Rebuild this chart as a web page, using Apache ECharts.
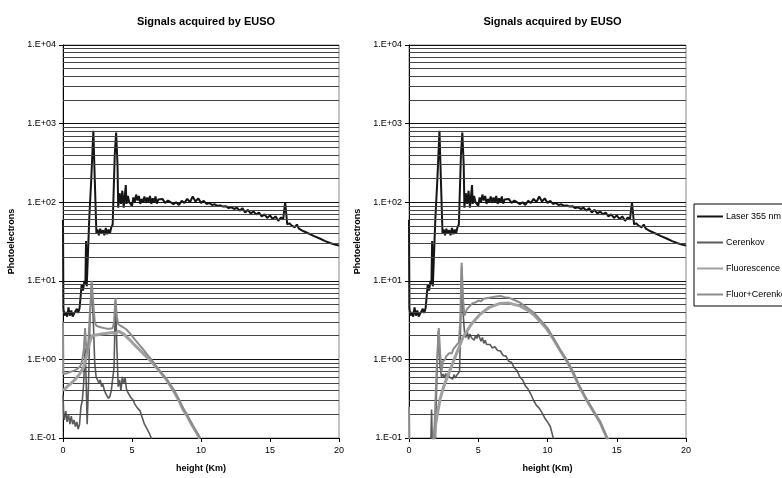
<!DOCTYPE html>
<html>
<head>
<meta charset="utf-8">
<script src="https://cdn.jsdelivr.net/npm/echarts@6/dist/echarts.min.js"></script>
<style>html,body{margin:0;padding:0;background:#fff}#c{width:782px;height:478px}</style>
</head>
<body>
<div id="c"></div>
<script>
const chartTitle = 'Signals acquired by EUSO';
const xName = 'height (Km)';
const yName = 'Photoelectrons';
const seriesNames = ['Laser 355 nm', 'Cerenkov', 'Fluorescence', 'Fluor+Cerenkov'];
const xTicks = [0, 5, 10, 15, 20];
const yDecades = [0.1, 1, 10, 100, 1000, 10000];

// Laser 355 nm (same in both panels)
const laser = [[0,60],[0.03,4.5],[0.1,3.6],[0.2,4.0],[0.3,3.5],[0.4,4.6],[0.5,3.6],[0.6,4.2],[0.7,3.5],[0.8,3.8],[0.9,3.6],[1.0,4.4],[1.1,3.9],[1.2,4.5],[1.3,7],[1.35,9],[1.45,7.5],[1.55,10],[1.62,9],[1.67,32],[1.72,8.5],[1.8,9],[1.9,60],[2.05,200],[2.2,810],[2.3,200],[2.42,40],[2.5,45],[2.6,38],[2.7,46],[2.8,40],[2.9,44],[3.0,38],[3.1,47],[3.2,39],[3.3,45],[3.4,40],[3.5,48],[3.6,52],[3.7,55],[3.75,400],[3.85,770],[3.95,300],[4.0,85],[4.1,130],[4.2,95],[4.3,140],[4.4,85],[4.55,165],[4.6,95],[4.7,120],[4.8,100],[4.9,105],[5.0,90],[5.1,115],[5.2,100],[5.3,125],[5.4,105],[5.5,120],[5.6,95],[5.7,110],[5.8,100],[5.9,118],[6.0,98],[6.1,115],[6.2,100],[6.3,120],[6.4,95],[6.5,112],[6.6,100],[6.7,118],[6.8,96],[6.9,108],[7.0,102],[7.2,110],[7.4,98],[7.6,105],[7.8,100],[8.0,94],[8.2,100],[8.4,92],[8.6,104],[8.8,98],[9.0,110],[9.2,100],[9.4,118],[9.6,102],[9.8,112],[10.0,98],[10.2,104],[10.4,95],[10.6,98],[10.8,92],[11.0,94],[11.2,90],[11.4,91],[11.6,88],[11.8,89],[12.0,84],[12.2,86],[12.4,82],[12.6,85],[12.8,78],[13.0,84],[13.2,74],[13.4,80],[13.6,72],[13.8,76],[14.0,70],[14.2,74],[14.4,66],[14.6,70],[14.8,63],[15.0,68],[15.2,61],[15.4,66],[15.6,58],[15.8,64],[15.95,60],[16.1,100],[16.25,52],[16.4,54],[16.6,50],[16.8,48],[16.95,52],[17.1,46],[17.4,43],[17.8,40],[18.2,37],[18.6,34.5],[19.0,32],[19.4,30],[19.7,29],[20,28]];

// Left panel
const cerenkovL = [[0,0.35],[0.05,0.2],[0.1,0.17],[0.2,0.22],[0.3,0.16],[0.4,0.2],[0.5,0.15],[0.6,0.19],[0.7,0.15],[0.8,0.17],[0.9,0.14],[1.0,0.16],[1.1,0.13],[1.2,0.15],[1.3,0.25],[1.4,0.3],[1.5,0.5],[1.6,1.4],[1.67,0.6],[1.75,0.15],[1.85,0.5],[1.95,3],[2.08,9.5],[2.2,3],[2.3,0.9],[2.4,0.6],[2.5,0.55],[2.6,0.5],[2.7,0.55],[2.8,0.45],[2.9,0.48],[3.0,0.4],[3.1,0.38],[3.2,0.34],[3.3,0.32],[3.4,0.34],[3.5,0.4],[3.6,0.42],[3.7,0.8],[3.8,5.5],[3.9,1.5],[4.0,0.45],[4.1,0.55],[4.2,0.4],[4.3,0.6],[4.4,0.5],[4.5,0.58],[4.6,0.42],[4.7,0.38],[4.8,0.36],[4.9,0.33],[5.0,0.32],[5.1,0.3],[5.2,0.27],[5.3,0.28],[5.4,0.24],[5.5,0.23],[5.6,0.22],[5.7,0.19],[5.8,0.17],[5.9,0.15],[6.0,0.14],[6.1,0.13],[6.2,0.12],[6.3,0.11],[6.4,0.105],[6.5,0.09]];
const fluorL = [[0,0.4],[0.3,0.45],[0.6,0.5],[0.9,0.56],[1.2,0.65],[1.5,0.8],[1.7,1.1],[1.9,1.6],[2.1,2.0],[2.4,2.05],[2.8,2.1],[3.2,2.15],[3.6,2.2],[3.8,2.1],[4.0,2.3],[4.4,2.1],[4.8,1.8],[5.1,1.58],[5.5,1.35],[6.0,1.1],[6.3,0.98],[6.8,0.78],[7.2,0.64],[7.5,0.55],[8.0,0.4],[8.4,0.3],[8.7,0.23],[9.0,0.19],[9.4,0.14],[9.7,0.115],[9.9,0.098]];
const fluorCerL = [[0,3.0],[0.03,0.65],[0.1,0.62],[0.2,0.66],[0.3,0.63],[0.4,0.68],[0.5,0.65],[0.6,0.7],[0.7,0.68],[0.8,0.72],[0.9,0.7],[1.0,0.75],[1.1,0.74],[1.2,0.8],[1.3,0.85],[1.4,1.0],[1.5,1.3],[1.6,2.5],[1.67,1.5],[1.75,1.2],[1.85,1.8],[1.95,4],[2.08,10],[2.2,5],[2.3,3],[2.4,2.7],[2.6,2.6],[2.8,2.55],[3.0,2.5],[3.2,2.45],[3.4,2.45],[3.6,2.5],[3.7,3.0],[3.8,6.0],[3.9,3.5],[4.0,2.8],[4.3,2.6],[4.6,2.4],[4.9,2.1],[5.2,1.8],[5.5,1.55],[5.8,1.35],[6.1,1.15],[6.4,1.0],[6.8,0.8],[7.2,0.65],[7.5,0.56],[8.0,0.42],[8.4,0.31],[8.7,0.24],[9.0,0.195],[9.4,0.145],[9.7,0.118],[9.95,0.1]];

// Right panel
const cerenkovR = [[0,0.05],[1.55,0.05],[1.63,0.23],[1.7,0.06],[1.9,0.08],[2.0,0.5],[2.12,2.3],[2.25,0.8],[2.35,0.6],[2.45,0.65],[2.55,0.58],[2.65,0.66],[2.75,0.57],[2.85,0.63],[2.95,0.59],[3.05,0.62],[3.15,0.56],[3.25,0.64],[3.35,0.58],[3.45,0.63],[3.55,0.6],[3.65,0.7],[3.72,2.5],[3.8,15],[3.9,4],[4.0,2.3],[4.1,1.9],[4.2,2.3],[4.3,1.8],[4.4,2.1],[4.5,1.9],[4.6,2.0],[4.7,1.75],[4.8,2.0],[4.9,1.85],[5.0,2.1],[5.1,2.0],[5.2,1.7],[5.3,1.9],[5.4,1.6],[5.5,1.75],[5.6,1.55],[5.7,1.6],[5.85,1.55],[6.0,1.4],[6.2,1.45],[6.4,1.3],[6.6,1.28],[6.8,1.12],[7.0,1.1],[7.2,0.95],[7.4,0.92],[7.6,0.78],[7.8,0.72],[8.0,0.6],[8.2,0.55],[8.4,0.46],[8.6,0.42],[8.8,0.36],[9.0,0.3],[9.2,0.26],[9.4,0.24],[9.6,0.21],[9.8,0.18],[10.0,0.16],[10.2,0.14],[10.3,0.12],[10.45,0.095]];
const fluorR = [[1.78,0.09],[1.9,0.14],[2.0,0.18],[2.24,0.31],[2.5,0.45],[2.96,0.73],[3.4,1.15],[3.92,1.94],[4.5,2.8],[5.13,3.76],[5.8,4.6],[6.57,5.15],[7.2,5.2],[8.0,4.8],[8.5,4.3],[8.97,3.76],[9.5,3.0],[9.94,2.45],[10.4,1.85],[10.9,1.31],[11.4,0.95],[11.86,0.67],[12.3,0.45],[12.8,0.31],[13.3,0.22],[13.8,0.158],[14.1,0.12],[14.35,0.095]];
const fluorCerR = [[0,0.25],[0.05,0.06],[1.75,0.06],[1.85,0.15],[2.0,0.8],[2.15,2.5],[2.25,1.2],[2.35,0.7],[2.45,0.95],[2.6,1.0],[2.7,1.1],[2.8,1.05],[2.9,1.2],[3.0,1.25],[3.1,1.2],[3.2,1.35],[3.3,1.3],[3.4,1.5],[3.5,1.45],[3.6,1.65],[3.7,3],[3.8,17],[3.9,6],[4.0,3.6],[4.1,4.0],[4.2,4.4],[4.3,4.2],[4.4,4.8],[4.5,4.6],[4.6,5.2],[4.8,5.3],[5.0,5.6],[5.2,5.5],[5.4,5.9],[5.6,6.0],[5.8,6.1],[6.0,6.2],[6.3,6.3],[6.6,6.4],[6.9,6.2],[7.2,6.1],[7.6,5.7],[8.0,5.3],[8.5,4.6],[9.0,3.95],[9.5,3.15],[10.0,2.5],[10.4,1.9],[10.9,1.34],[11.4,0.97],[11.86,0.68],[12.3,0.46],[12.8,0.315],[13.3,0.222],[13.8,0.16],[14.1,0.121],[14.35,0.096]];

const FONT = 'Liberation Sans, Arial, sans-serif';
const minorGrid = [];
for (let k = 0; k < yDecades.length - 1; k++) {
  for (let m = 2; m <= 9; m++) minorGrid.push({ yAxis: +(m * yDecades[k]).toPrecision(3) });
}
function fmtY(v) {
  const e = Math.round(Math.log10(v));
  return '1.E' + (e < 0 ? '-' : '+') + String(Math.abs(e)).padStart(2, '0');
}
const grids = [
  { left: 63, top: 45, width: 276, height: 401 },
  { left: 409, top: 45, width: 277, height: 401 }
];
const styles = [
  { color: '#151515', width: 2 },
  { color: '#5a5a5a', width: 1.6 },
  { color: '#a0a0a0', width: 3 },
  { color: '#8c8c8c', width: 2 }
];
const panelData = [
  [laser, cerenkovL, fluorL, fluorCerL],
  [laser, cerenkovR, fluorR, fluorCerR]
];
const series = [];
panelData.forEach((set, gi) => {
  series.push({
    type: 'line', xAxisIndex: gi, yAxisIndex: gi, data: [], silent: true,
    markLine: { silent: true, symbol: 'none', label: { show: false }, animation: false,
      lineStyle: { type: 'solid', color: '#444', width: 1 }, data: minorGrid }
  });
  set.forEach((d, si) => {
    series.push({
      name: seriesNames[si], type: 'line', xAxisIndex: gi, yAxisIndex: gi,
      data: d, symbol: 'none', showSymbol: false, clip: true,
      lineStyle: { color: styles[si].color, width: styles[si].width },
      itemStyle: { color: styles[si].color }, z: 3 + si
    });
  });
});
const chart = echarts.init(document.getElementById('c'), null, { renderer: 'canvas' });
chart.setOption({
  animation: false,
  backgroundColor: '#fff',
  title: grids.map(g => ({
    text: chartTitle, left: g.left + g.width / 2, top: 11, textAlign: 'center',
    textStyle: { fontSize: 11, fontWeight: 'bold', fontFamily: FONT, color: '#000' }
  })),
  legend: {
    orient: 'vertical', left: 694, top: 204,
    data: seriesNames.map((n, i) => ({ name: n, icon: 'rect', itemStyle: { color: styles[i].color } })),
    itemWidth: 26, itemHeight: 2, itemGap: 15,
    padding: [7, 40, 6, 3], borderColor: '#000', borderWidth: 1, backgroundColor: '#fff',
    textStyle: { fontSize: 9, fontFamily: FONT, color: '#000', lineHeight: 11, padding: [0, 0, 0, -2] }
  },
  grid: grids.map(g => Object.assign({ show: true, borderColor: '#888', borderWidth: 1 }, g)),
  xAxis: grids.map((g, i) => ({
    type: 'value', gridIndex: i, min: xTicks[0], max: xTicks[xTicks.length - 1], interval: 5,
    name: xName, nameLocation: 'middle', nameGap: 26,
    nameTextStyle: { fontSize: 9, fontWeight: 'bold', fontFamily: FONT, color: '#000' },
    axisLine: { show: true, onZero: false, lineStyle: { color: '#000', width: 1 } },
    axisTick: { show: true, inside: false, length: 4, lineStyle: { color: '#000' } },
    axisLabel: { fontSize: 9, fontFamily: FONT, color: '#000', margin: 8 },
    splitLine: { show: false }
  })),
  yAxis: grids.map((g, i) => ({
    type: 'log', gridIndex: i, logBase: 10, min: yDecades[0], max: yDecades[yDecades.length - 1],
    name: yName, nameLocation: 'middle', nameGap: 47,
    nameTextStyle: { fontSize: 9, fontWeight: 'bold', fontFamily: FONT, color: '#000' },
    axisLine: { show: true, lineStyle: { color: '#000', width: 1 } },
    axisTick: { show: true, inside: false, length: 4, lineStyle: { color: '#000' } },
    axisLabel: { fontSize: 9, fontFamily: FONT, color: '#000', margin: 7, formatter: fmtY },
    splitLine: { show: true, lineStyle: { color: '#111', width: 1 } }
  })),
  series: series
});
</script>
</body>
</html>
